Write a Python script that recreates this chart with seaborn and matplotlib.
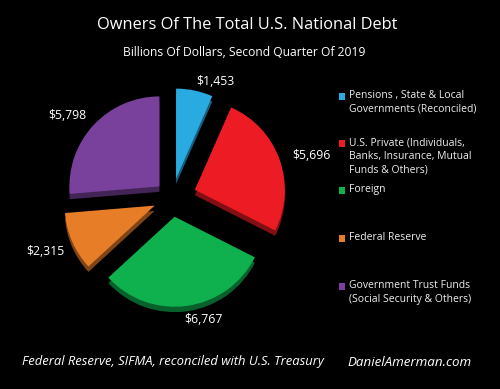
import numpy as np
import matplotlib
matplotlib.use("Agg")
import matplotlib.pyplot as plt
import seaborn as sns

# data
owners = [
    "Pensions , State & Local\nGovernments (Reconciled)",
    "U.S. Private (Individuals,\nBanks, Insurance, Mutual\nFunds & Others)",
    "Foreign",
    "Federal Reserve",
    "Government Trust Funds\n(Social Security & Others)",
]
debt_billions = [1453, 5696, 6767, 2315, 5798]
value_labels = [f"${v:,}" for v in debt_billions]
owner_colors = ["#29abe2", "#ed1c24", "#0fb14f", "#e87d28", "#7a419c"]

sns.set_theme(style="dark", rc={
    "figure.facecolor": "black",
    "axes.facecolor": "black",
    "text.color": "white",
})
plt.rcParams["font.family"] = ["Open Sans", "DejaVu Sans"]

fig = plt.figure(figsize=(5, 3.89), dpi=100)

# pie area: 1 data unit = 90 px, centre at pixel (172, 198)
ax = fig.add_axes([0, 49 / 389, 340 / 500, 280 / 389])
ax.set_facecolor("black")

explode = [0.22, 0.27, 0.21, 0.21, 0.19]
label_dist = [1.375, 1.62, 1.40, 1.53, 1.48]
label_turn = [-8.4, -2.6, 6.7, -0.6, 4.1]  # degrees
dark = [tuple(np.array(matplotlib.colors.to_rgb(c)) * 0.55) for c in owner_colors]

# "3D" depth: darker copy shifted down
ax.pie(debt_billions, colors=dark, startangle=90, counterclock=False,
       explode=explode, center=(0, -0.06), wedgeprops={"linewidth": 0})
wedges, texts = ax.pie(
    debt_billions, colors=owner_colors, startangle=90, counterclock=False,
    explode=explode, labels=value_labels,
    wedgeprops={"linewidth": 0},
    textprops={"color": "white", "fontsize": 8.8},
)
for w, t, d, turn in zip(wedges, texts, label_dist, label_turn):
    mid = np.deg2rad((w.theta1 + w.theta2) / 2 + turn)
    t.set_position((d * np.cos(mid), d * np.sin(mid)))
    t.set_ha("center")
    t.set_va("center")

ax.set_aspect("auto")
ax.set_xlim(-172 / 90, 168 / 90)
ax.set_ylim(-142 / 90, 138 / 90)
ax.axis("off")

# titles
fig.text(247 / 500, 1 - 25 / 389, "Owners Of The Total U.S. National Debt",
         ha="center", va="center", fontsize=11.8, color="white")
fig.text(244 / 500, 1 - 52 / 389, "Billions Of Dollars, Second Quarter Of 2019",
         ha="center", va="center", fontsize=8.7, color="white")

# legend
legend_y = [96, 143, 190, 238, 286]
for name, col, y in zip(owners, owner_colors, legend_y):
    fig.patches.append(plt.Rectangle((339 / 500, 1 - (y + 4) / 389), 6 / 500, 7 / 389,
                                     transform=fig.transFigure, facecolor=col,
                                     edgecolor="none"))
    fig.text(349 / 500, 1 - (y - 6) / 389, name, ha="left", va="top",
             fontsize=7.5, color="#eeeeee", linespacing=1.35)

# footer
fig.text(22 / 500, 1 - 362 / 389, "Federal Reserve, SIFMA, reconciled with U.S. Treasury",
         ha="left", va="center", fontsize=9.4, style="italic", color="white")
fig.text(347 / 500, 1 - 362 / 389, "DanielAmerman.com",
         ha="left", va="center", fontsize=9.6, style="italic", color="white")

fig.savefig("out.png", dpi=100, facecolor="black")
